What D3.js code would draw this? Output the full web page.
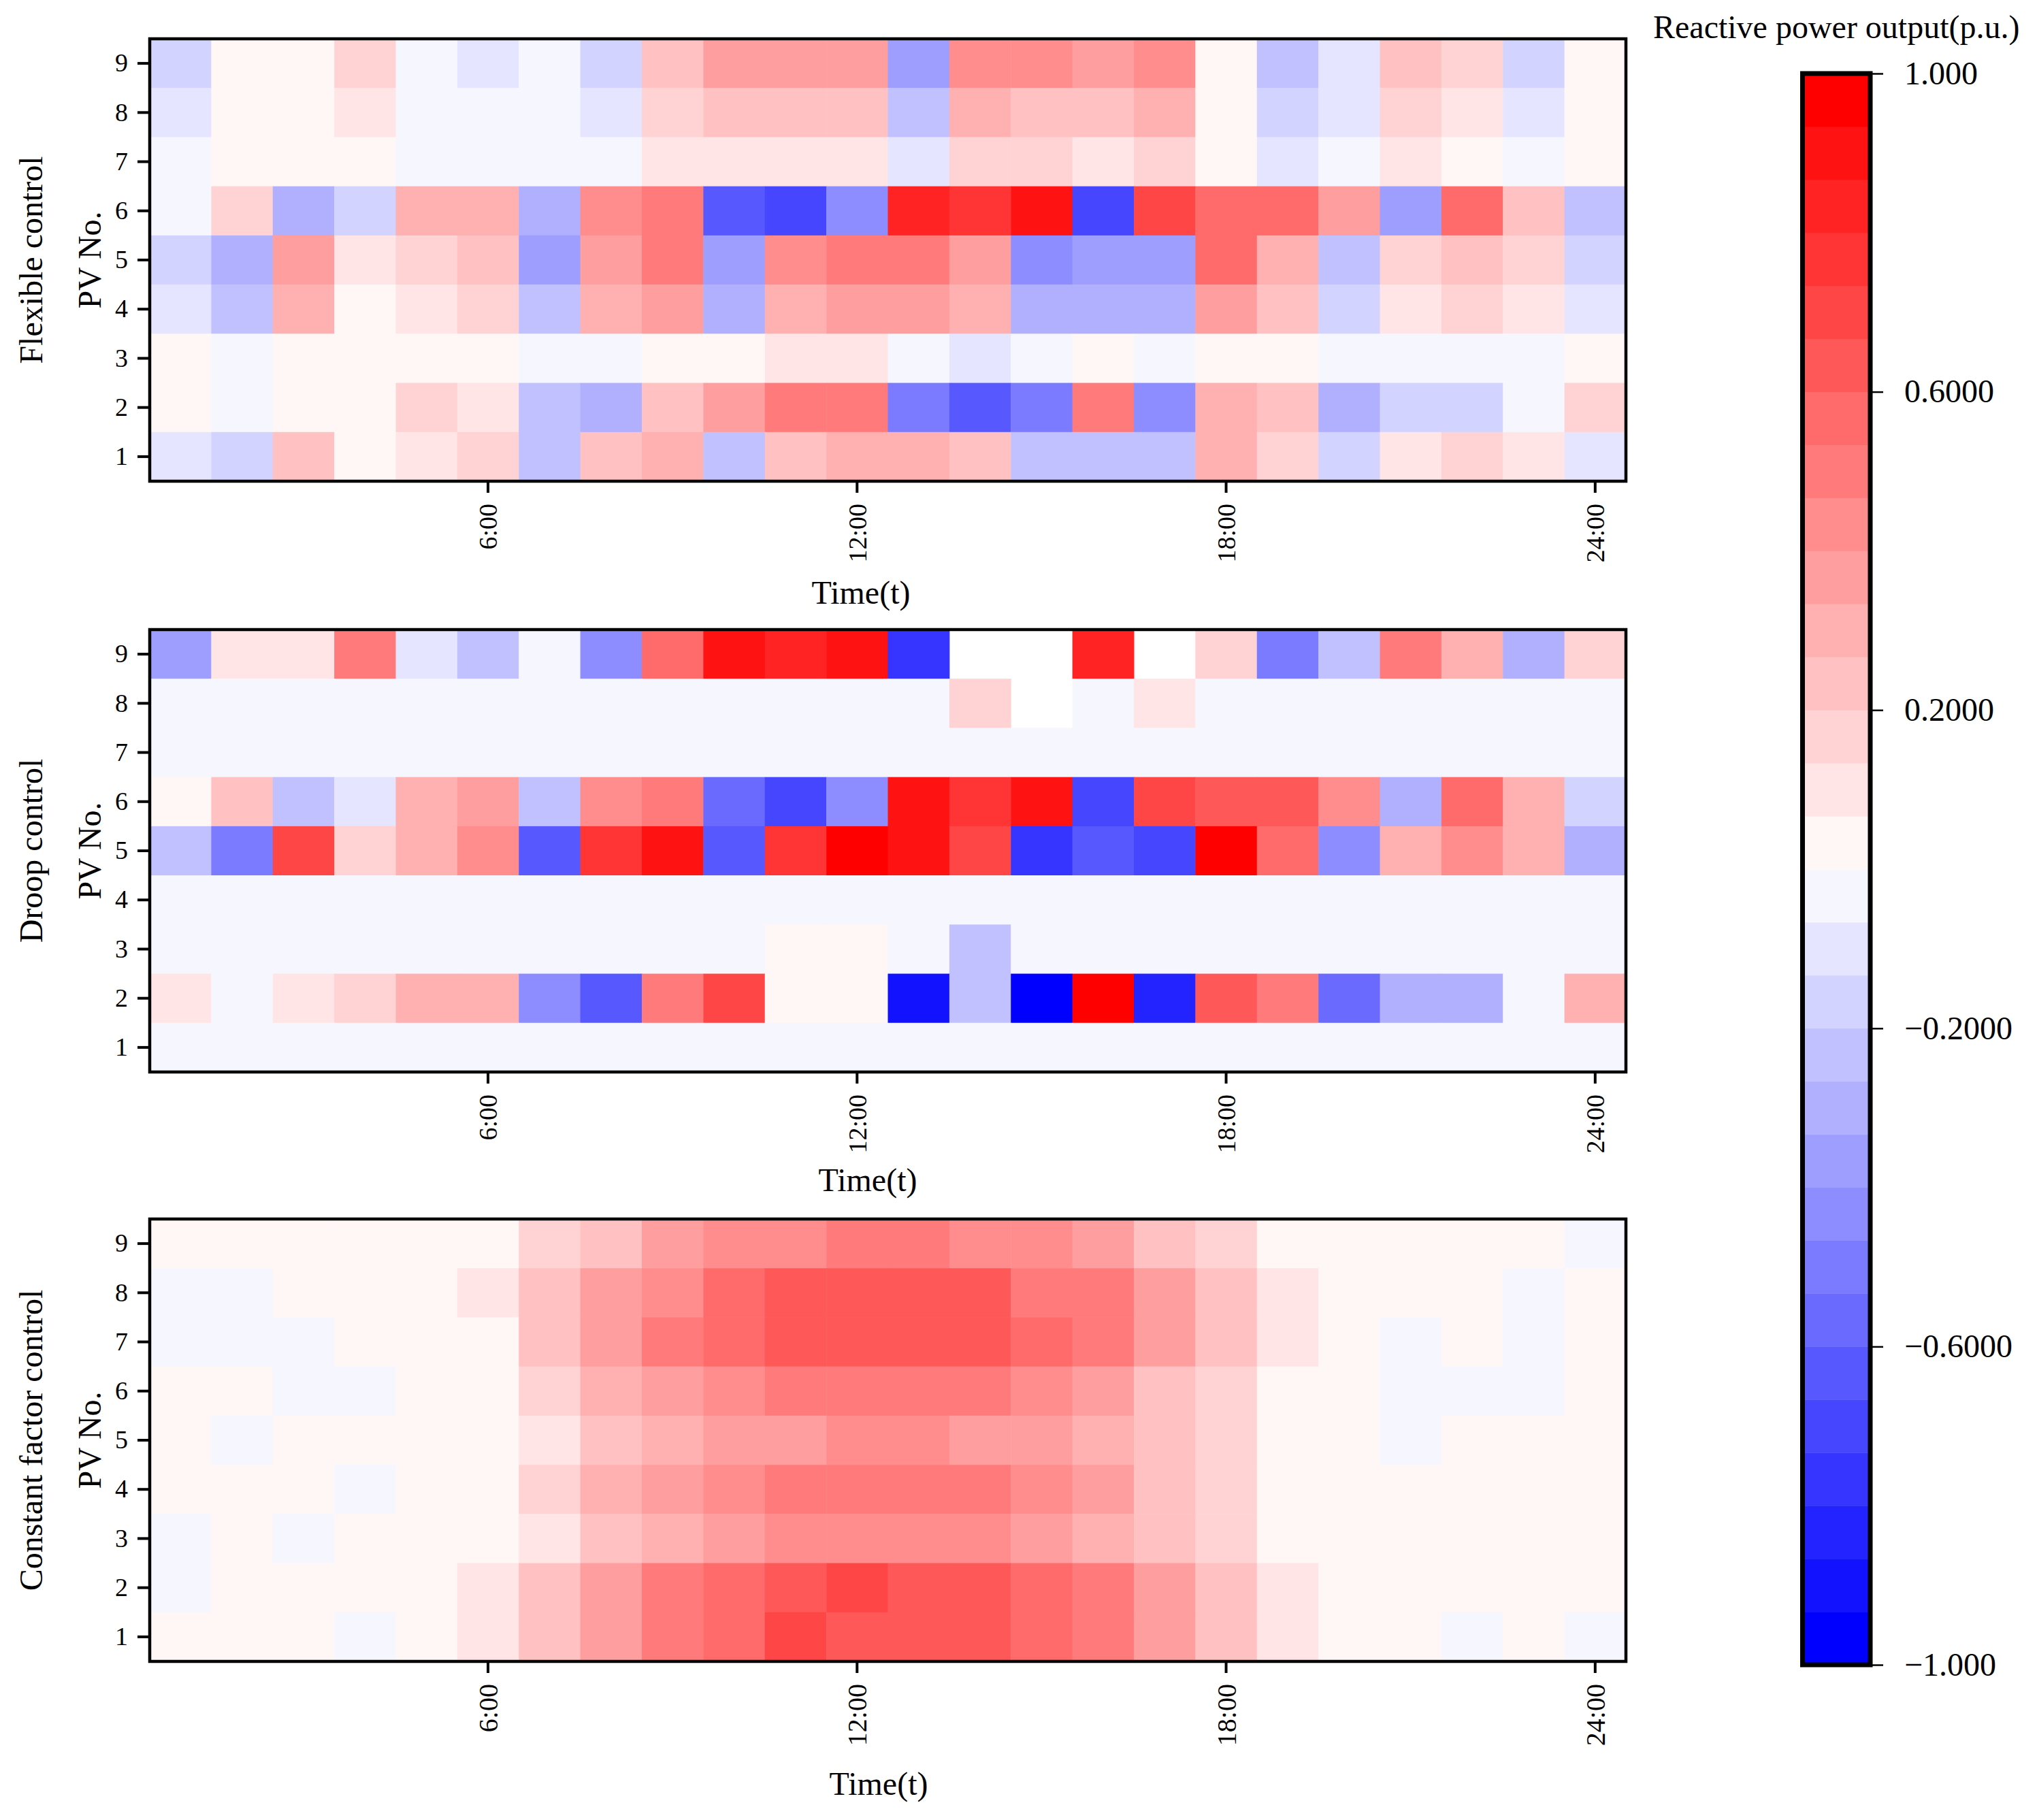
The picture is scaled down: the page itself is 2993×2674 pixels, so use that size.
<!DOCTYPE html>
<html>
<head>
<meta charset="utf-8">
<script src="https://cdn.jsdelivr.net/npm/d3@7/dist/d3.min.js"></script>
<style>
  body { margin: 0; background: #fff; }
  text { font-family: "Liberation Serif", "Times New Roman", serif; fill: #000; }
</style>
</head>
<body>
<script>
// hours on x, PV number on y
const hours = d3.range(1, 25);
const pvNos = [9, 8, 7, 6, 5, 4, 3, 2, 1];
const xTickHours = [6, 12, 18, 24];
const xTickLabels = ["6:00", "12:00", "18:00", "24:00"];
const cbarTicks = [-1, -0.6, -0.2, 0.2, 0.6, 1];
const cbarTickLabels = ["\u22121.000", "\u22120.6000", "\u22120.2000", "0.2000", "0.6000", "1.000"];
const panelNames = ["Flexible control", "Droop control", "Constant factor control"];

// rows from PV 9 (top) down to PV 1, one value per hour; null = no value (blank cell)
const flexible = [
  [-0.17,0.03,0.03,0.17,-0.03,-0.1,-0.03,-0.17,0.23,0.37,0.37,0.37,-0.37,0.43,0.43,0.37,0.43,0.03,-0.23,-0.1,0.23,0.17,-0.17,0.03],
  [-0.1,0.03,0.03,0.1,-0.03,-0.03,-0.03,-0.1,0.17,0.23,0.23,0.23,-0.23,0.3,0.23,0.23,0.3,0.03,-0.17,-0.1,0.17,0.1,-0.1,0.03],
  [-0.03,0.03,0.03,0.03,-0.03,-0.03,-0.03,-0.03,0.1,0.1,0.1,0.1,-0.1,0.17,0.17,0.1,0.17,0.03,-0.1,-0.03,0.1,0.03,-0.03,0.03],
  [-0.03,0.17,-0.3,-0.17,0.3,0.3,-0.3,0.43,0.5,-0.63,-0.7,-0.43,0.83,0.77,0.9,-0.7,0.7,0.57,0.57,0.37,-0.37,0.57,0.23,-0.23],
  [-0.17,-0.3,0.37,0.1,0.17,0.23,-0.37,0.37,0.5,-0.37,0.43,0.5,0.5,0.37,-0.43,-0.37,-0.37,0.57,0.3,-0.23,0.17,0.23,0.17,-0.17],
  [-0.1,-0.23,0.3,0.03,0.1,0.17,-0.23,0.3,0.37,-0.3,0.3,0.37,0.37,0.3,-0.3,-0.3,-0.3,0.37,0.23,-0.17,0.1,0.17,0.1,-0.1],
  [0.03,-0.03,0.03,0.03,0.03,0.03,-0.03,-0.03,0.03,0.03,0.1,0.1,-0.03,-0.1,-0.03,0.03,-0.03,0.03,0.03,-0.03,-0.03,-0.03,-0.03,0.03],
  [0.03,-0.03,0.03,0.03,0.17,0.1,-0.23,-0.3,0.23,0.37,0.5,0.5,-0.5,-0.63,-0.5,0.5,-0.43,0.3,0.23,-0.3,-0.17,-0.17,-0.03,0.17],
  [-0.1,-0.17,0.23,0.03,0.1,0.17,-0.23,0.23,0.3,-0.23,0.23,0.3,0.3,0.23,-0.23,-0.23,-0.23,0.3,0.17,-0.17,0.1,0.17,0.1,-0.1]
];

const droop = [
  [-0.37,0.1,0.1,0.5,-0.1,-0.23,-0.03,-0.43,0.57,0.9,0.83,0.9,-0.77,null,null,0.83,null,0.17,-0.5,-0.23,0.5,0.3,-0.3,0.17],
  [-0.03,-0.03,-0.03,-0.03,-0.03,-0.03,-0.03,-0.03,-0.03,-0.03,-0.03,-0.03,-0.03,0.17,null,-0.03,0.1,-0.03,-0.03,-0.03,-0.03,-0.03,-0.03,-0.03],
  [-0.03,-0.03,-0.03,-0.03,-0.03,-0.03,-0.03,-0.03,-0.03,-0.03,-0.03,-0.03,-0.03,-0.03,-0.03,-0.03,-0.03,-0.03,-0.03,-0.03,-0.03,-0.03,-0.03,-0.03],
  [0.03,0.23,-0.23,-0.1,0.3,0.37,-0.23,0.43,0.5,-0.57,-0.7,-0.43,0.9,0.77,0.9,-0.7,0.7,0.63,0.63,0.43,-0.3,0.57,0.3,-0.17],
  [-0.23,-0.5,0.7,0.17,0.3,0.43,-0.63,0.77,0.9,-0.63,0.77,0.97,0.9,0.7,-0.77,-0.63,-0.7,0.97,0.57,-0.43,0.3,0.43,0.3,-0.3],
  [-0.03,-0.03,-0.03,-0.03,-0.03,-0.03,-0.03,-0.03,-0.03,-0.03,-0.03,-0.03,-0.03,-0.03,-0.03,-0.03,-0.03,-0.03,-0.03,-0.03,-0.03,-0.03,-0.03,-0.03],
  [-0.03,-0.03,-0.03,-0.03,-0.03,-0.03,-0.03,-0.03,-0.03,-0.03,0.03,0.03,-0.03,-0.23,-0.03,-0.03,-0.03,-0.03,-0.03,-0.03,-0.03,-0.03,-0.03,-0.03],
  [0.1,-0.03,0.1,0.17,0.3,0.3,-0.43,-0.63,0.5,0.7,0.03,0.03,-0.9,-0.23,-0.97,0.97,-0.83,0.63,0.5,-0.57,-0.3,-0.3,-0.03,0.3],
  [-0.03,-0.03,-0.03,-0.03,-0.03,-0.03,-0.03,-0.03,-0.03,-0.03,-0.03,-0.03,-0.03,-0.03,-0.03,-0.03,-0.03,-0.03,-0.03,-0.03,-0.03,-0.03,-0.03,-0.03]
];

const constantFactor = [
  [0.03,0.03,0.03,0.03,0.03,0.03,0.17,0.23,0.37,0.43,0.43,0.5,0.5,0.43,0.43,0.37,0.23,0.17,0.03,0.03,0.03,0.03,0.03,-0.03],
  [-0.03,-0.03,0.03,0.03,0.03,0.1,0.23,0.37,0.43,0.57,0.63,0.63,0.63,0.63,0.5,0.5,0.37,0.23,0.1,0.03,0.03,0.03,-0.03,0.03],
  [-0.03,-0.03,-0.03,0.03,0.03,0.03,0.23,0.37,0.5,0.57,0.63,0.63,0.63,0.63,0.57,0.5,0.37,0.23,0.1,0.03,-0.03,0.03,-0.03,0.03],
  [0.03,0.03,-0.03,-0.03,0.03,0.03,0.17,0.3,0.37,0.43,0.5,0.5,0.5,0.5,0.43,0.37,0.23,0.17,0.03,0.03,-0.03,-0.03,-0.03,0.03],
  [0.03,-0.03,0.03,0.03,0.03,0.03,0.1,0.23,0.3,0.37,0.37,0.43,0.43,0.37,0.37,0.3,0.23,0.17,0.03,0.03,-0.03,0.03,0.03,0.03],
  [0.03,0.03,0.03,-0.03,0.03,0.03,0.17,0.3,0.37,0.43,0.5,0.5,0.5,0.5,0.43,0.37,0.23,0.17,0.03,0.03,0.03,0.03,0.03,0.03],
  [-0.03,0.03,-0.03,0.03,0.03,0.03,0.1,0.23,0.3,0.37,0.43,0.43,0.43,0.43,0.37,0.3,0.23,0.17,0.03,0.03,0.03,0.03,0.03,0.03],
  [-0.03,0.03,0.03,0.03,0.03,0.1,0.23,0.37,0.5,0.57,0.63,0.7,0.63,0.63,0.57,0.5,0.37,0.23,0.1,0.03,0.03,0.03,0.03,0.03],
  [0.03,0.03,0.03,-0.03,0.03,0.1,0.23,0.37,0.5,0.57,0.7,0.63,0.63,0.63,0.57,0.5,0.37,0.23,0.1,0.03,0.03,-0.03,0.03,-0.03]
];

const panelData = [flexible, droop, constantFactor];

const W = 2993, H = 2674;

// bwr colormap cut into 30 levels
const nLevels = 30;
const bwr = d3.scaleLinear().domain([0, 0.5, 1]).range(["#0000ff", "#ffffff", "#ff0000"]);
const palette = d3.range(nLevels).map(k => bwr(k / (nLevels - 1)));
const color = d3.scaleQuantize().domain([-1, 1]).range(palette);

const svg = d3.select("body").append("svg")
    .attr("width", W)
    .attr("height", H);

const left = 220, right = 2389;
const panelTops = [57, 925, 1791];
const panelH = 650;
const xLabelX = [1265, 1275, 1291];
const xLabelY = [887, 1750, 2637];
const xTickFont = [38, 38, 40];

const x = d3.scaleBand().domain(hours).range([left, right]);

panelData.forEach(function (rows, p) {
    let top = panelTops[p];
    let y = d3.scaleBand().domain(pvNos).range([top, top + panelH]);

    let cells = [];
    rows.forEach(function (row, i) {
        row.forEach(function (v, j) {
            cells.push({pv: pvNos[i], hour: hours[j], value: v});
        });
    });

    let g = svg.append("g").attr("class", "panel");

    g.selectAll("rect.cell")
        .data(cells.filter(d => d.value !== null))
        .enter()
        .append("rect")
        .attr("class", "cell")
        .attr("x", d => x(d.hour))
        .attr("y", d => y(d.pv))
        .attr("width", x.bandwidth() + 0.5)
        .attr("height", y.bandwidth() + 0.5)
        .attr("fill", d => color(d.value));

    // y axis
    let yAxis = g.append("g")
        .attr("transform", "translate(" + left + ",0)")
        .call(d3.axisLeft(y).tickSize(18).tickPadding(14));
    yAxis.select(".domain").remove();
    yAxis.selectAll("line").attr("stroke", "#000").attr("stroke-width", 4);
    yAxis.selectAll("text").style("font-size", "38px");

    // x axis with rotated labels
    let xAxis = g.append("g")
        .attr("transform", "translate(0," + (top + panelH) + ")")
        .call(d3.axisBottom(x)
            .tickValues(xTickHours)
            .tickFormat((d, i) => xTickLabels[i])
            .tickSize(17));
    xAxis.select(".domain").remove();
    xAxis.selectAll("line").attr("stroke", "#000").attr("stroke-width", 4);
    xAxis.selectAll("text")
        .style("font-size", xTickFont[p] + "px")
        .attr("transform", "rotate(-90)")
        .attr("text-anchor", "end")
        .attr("x", -33)
        .attr("y", 0)
        .attr("dy", "0.35em");

    // frame
    g.append("rect")
        .attr("x", left)
        .attr("y", top)
        .attr("width", right - left)
        .attr("height", panelH)
        .attr("fill", "none")
        .attr("stroke", "#000")
        .attr("stroke-width", 4.5);

    // labels
    let cy = top + panelH / 2;
    g.append("text")
        .attr("transform", "translate(148," + cy + ") rotate(-90)")
        .attr("text-anchor", "middle")
        .style("font-size", "48px")
        .text("PV No.");
    g.append("text")
        .attr("transform", "translate(62," + cy + ") rotate(-90)")
        .attr("text-anchor", "middle")
        .style("font-size", "48px")
        .text(panelNames[p]);
    g.append("text")
        .attr("x", xLabelX[p])
        .attr("y", xLabelY[p])
        .attr("text-anchor", "middle")
        .style("font-size", "48px")
        .text("Time(t)");
});

// colorbar
const cbX0 = 2648.5, cbX1 = 2748;
const cbTop = 108, cbBottom = 2446;
const cScale = d3.scaleLinear().domain([-1, 1]).range([cbBottom, cbTop]);
const levelEdges = d3.range(nLevels).map(k => [-1 + 2 * k / nLevels, -1 + 2 * (k + 1) / nLevels]);

const cb = svg.append("g").attr("class", "colorbar");

cb.selectAll("rect.level")
    .data(levelEdges)
    .enter()
    .append("rect")
    .attr("class", "level")
    .attr("x", cbX0)
    .attr("y", d => cScale(d[1]))
    .attr("width", cbX1 - cbX0)
    .attr("height", d => cScale(d[0]) - cScale(d[1]) + 0.5)
    .attr("fill", (d, k) => palette[k]);

let cAxis = cb.append("g")
    .attr("transform", "translate(" + cbX1 + ",0)")
    .call(d3.axisRight(cScale)
        .tickValues(cbarTicks)
        .tickFormat((d, i) => cbarTickLabels[i])
        .tickSize(19)
        .tickPadding(31));
cAxis.select(".domain").remove();
cAxis.selectAll("line").attr("stroke", "#000").attr("stroke-width", 2.5);
cAxis.selectAll("text").style("font-size", "48px");

cb.append("rect")
    .attr("x", cbX0)
    .attr("y", cbTop)
    .attr("width", cbX1 - cbX0)
    .attr("height", cbBottom - cbTop)
    .attr("fill", "none")
    .attr("stroke", "#000")
    .attr("stroke-width", 7);

cb.append("text")
    .attr("x", (cbX0 + cbX1) / 2)
    .attr("y", 56)
    .attr("text-anchor", "middle")
    .style("font-size", "48px")
    .text("Reactive power output(p.u.)");
</script>
</body>
</html>
